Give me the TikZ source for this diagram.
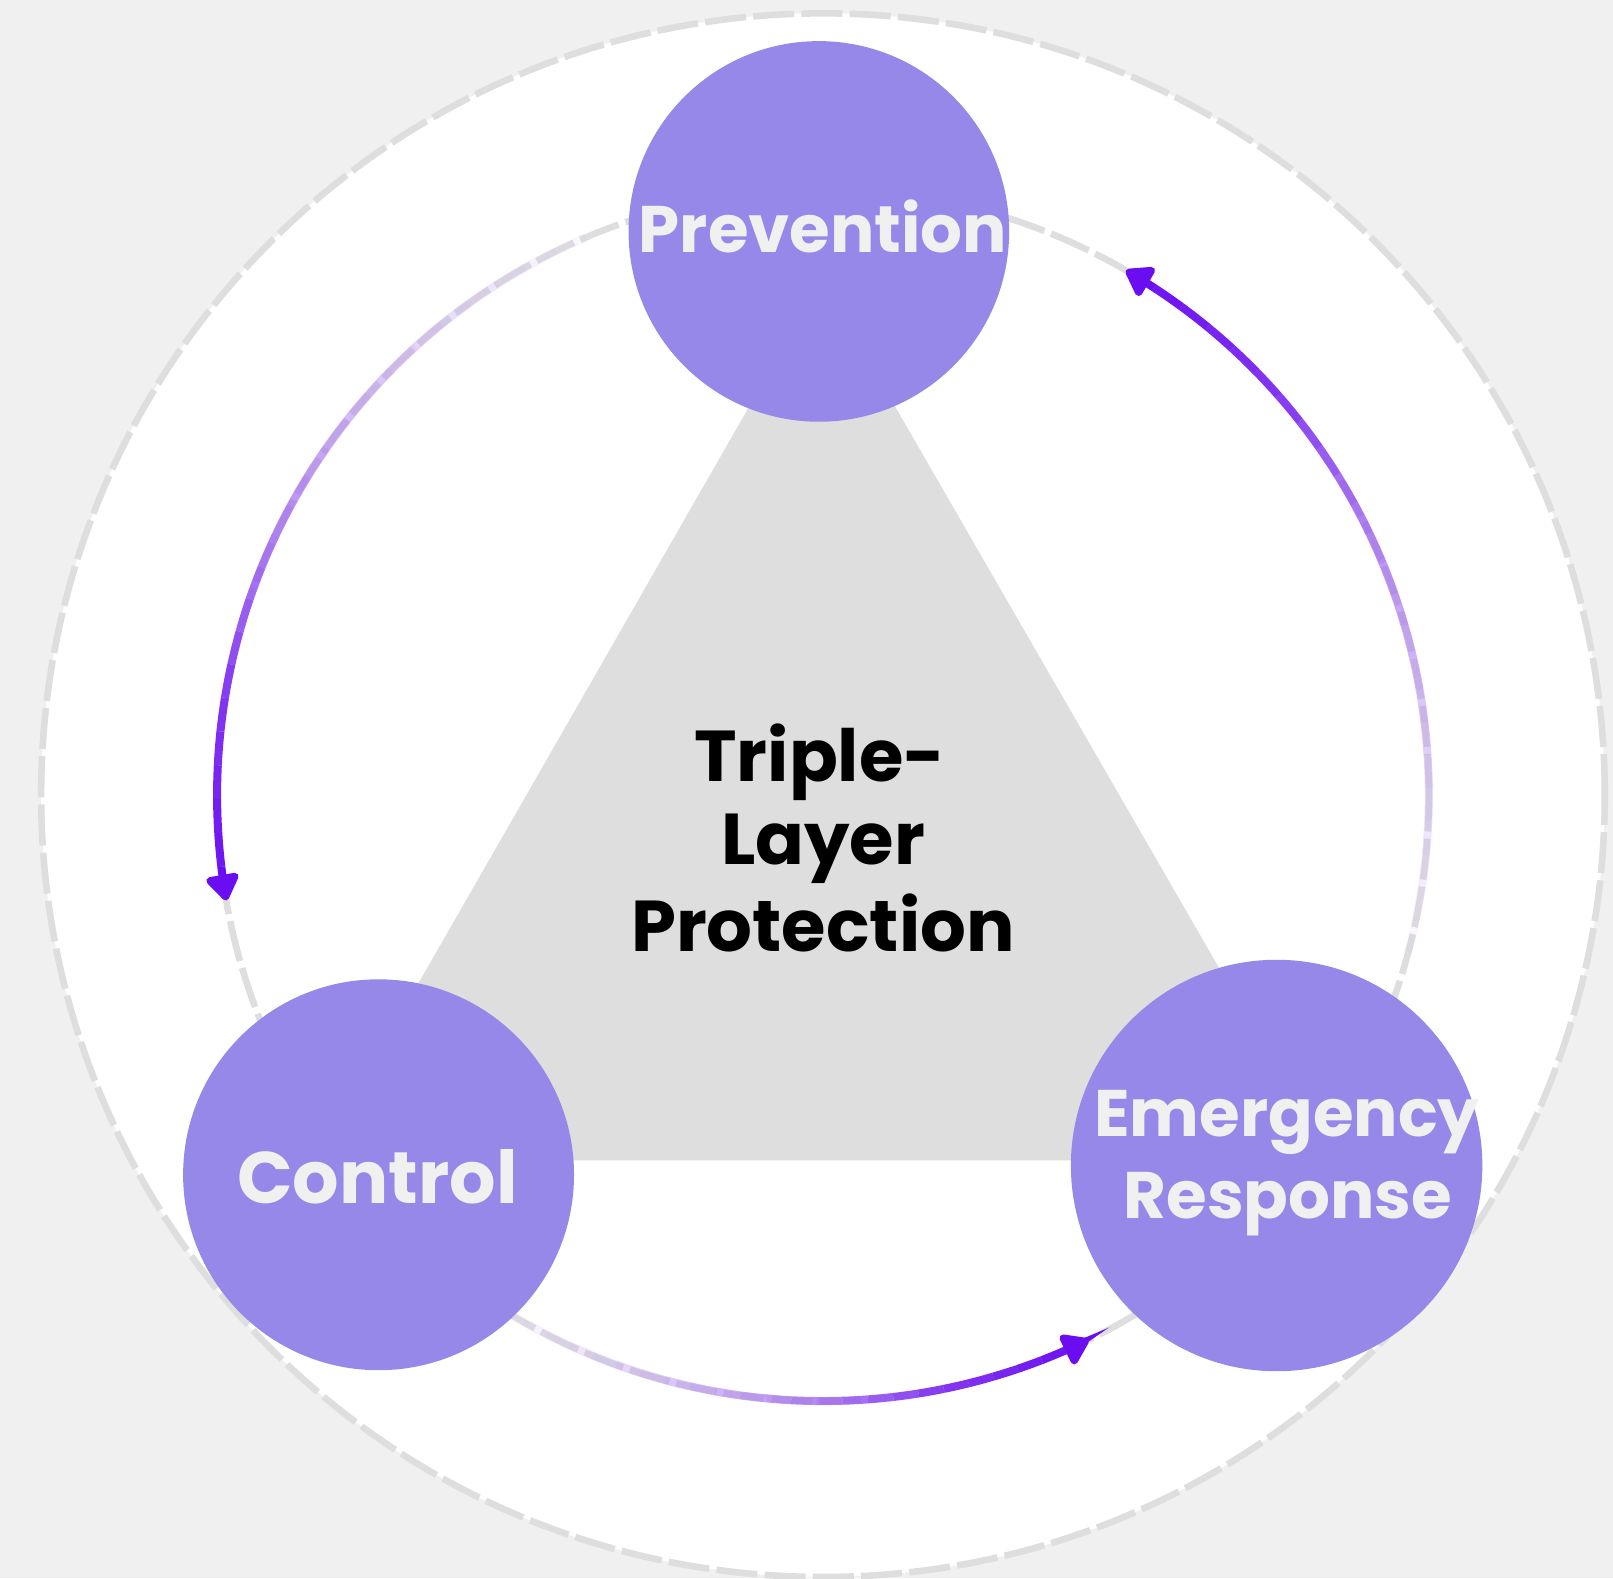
\documentclass[tikz,border=0pt]{standalone}
\usepackage{fontspec}
\setmainfont{Poppins}
\usetikzlibrary{arrows.meta,calc}
\definecolor{bgc}{HTML}{F0F0F0}
\definecolor{ringc}{HTML}{DEDEDE}
\definecolor{nodec}{HTML}{9588E8}
\definecolor{ntext}{HTML}{F0F0F0}
\definecolor{arrD}{HTML}{6A0DF0}
\definecolor{arrL}{HTML}{D8C4F2}
\newcommand\gradarc[2]{%
  \foreach \i in {1,...,24}{%
    \pgfmathsetmacro\sa{#1+(#2-#1)*(\i-1)/24}%
    \pgfmathsetmacro\ea{#1+(#2-#1)*\i/24}%
    \pgfmathsetmacro\op{min(1,0.08+1.2*\i/24)}%
    \pgfmathtruncatemacro\pc{100*\i/24}%
    \ifnum\i<24
      \draw[arcseg, draw=arrD!\pc!arrL, draw opacity=\op] ($(c)+(\sa:589)$) arc[start angle=\sa, end angle=\ea, radius=589];
    \else
      \draw[arcseg, draw=arrD, -{Triangle[width=18pt,length=14pt,round]}] ($(c)+(\sa:589)$) arc[start angle=\sa, end angle=\ea, radius=589];
    \fi
  }%
}
\begin{document}
\begin{tikzpicture}[x=0.5pt,y=0.5pt,
  ring/.style={draw=ringc, line width=3.2pt, dash pattern=on 20pt off 3.5pt},
  layer/.style={circle, fill=nodec, inner sep=0pt},
  ltext/.style={text=ntext, font=\bfseries\fontsize{32pt}{36pt}\selectfont, anchor=base, inner sep=0pt},
  ctext/.style={text=black, font=\bfseries\fontsize{35pt}{38pt}\selectfont, anchor=base, inner sep=0pt},
  arcseg/.style={line width=3.9pt}
]
\fill[bgc] (0,0) rectangle (1568,1534);
\useasboundingbox (0,0) rectangle (1568,1534);
\coordinate (c) at (800,761);
\draw[ring, fill=white] (c) circle[radius=760];
\fill[ringc] (308,406) -- (1293,406) -- (799,1262) -- cycle;
\draw[ring] (c) circle[radius=589];
\gradarc{113}{190}
\gradarc{238}{296}
\gradarc{345}{420}
\node[layer, minimum size=185pt] (prev) at (796,1309) {};
\node[layer, minimum size=190pt] (ctrl) at (368,392) {};
\node[layer, minimum size=200pt] (emer) at (1241,401) {};
\node[ltext] (prevT) at (800,1289) {Prevention};
\node[ltext, font=\bfseries\fontsize{35.5pt}{40pt}\selectfont] (ctrlT) at (367,364) {Control};
\node[ltext] (emerT1) at (1251,429) {Emergency};
\node[ltext] (emerT2) at (1252,349) {Response};
\node[ctext] (t1) at (797,774) {Triple-};
\node[ctext] (t2) at (800,694) {Layer};
\node[ctext] (t3) at (800,609) {Protection};
\end{tikzpicture}
\end{document}
